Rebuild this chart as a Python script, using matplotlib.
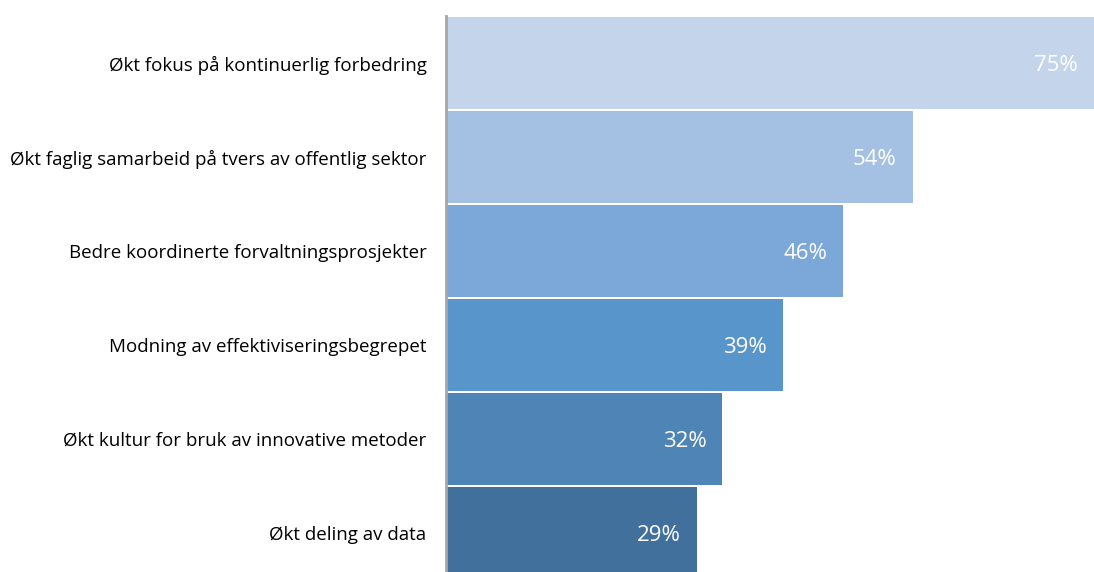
import matplotlib.pyplot as plt

# survey results, shares of respondents
categories = [
    'Økt fokus på kontinuerlig forbedring',
    'Økt faglig samarbeid på tvers av offentlig sektor',
    'Bedre koordinerte forvaltningsprosjekter',
    'Modning av effektiviseringsbegrepet',
    'Økt kultur for bruk av innovative metoder',
    'Økt deling av data',
]
values = [75, 54, 46, 39, 32, 29]
colors = ['#C4D4EA', '#A4C0E3', '#7BA8D8', '#5895CB', '#4E84B6', '#41709C']

plt.rcParams['font.family'] = ['Open Sans', 'DejaVu Sans']

fig = plt.figure(figsize=(10.94, 5.72), dpi=100)
# the last bar runs off the bottom edge
ax = fig.add_axes([446 / 1094, -8 / 572, 1 - 446 / 1094, (572 - 16 + 8) / 572])

pos = list(range(len(values)))
bars = ax.barh(pos, values, height=0.97, color=colors)
ax.set_ylim(len(values) - 0.5, -0.5)
ax.set_xlim(0, 75)

# value labels inside the bar ends
for bar, v in zip(bars, values):
    ax.annotate(f'{v}%', xy=(bar.get_width(), bar.get_y() + bar.get_height() / 2),
                xytext=(-38, 0), textcoords='offset pixels',
                ha='center', va='center_baseline', color='white', fontsize=16)

ax.set_yticks(pos)
ax.set_yticklabels(categories, fontsize=13.5)
ax.tick_params(axis='y', length=0, pad=14)
ax.set_xticks([])
for side in ['top', 'right', 'bottom']:
    ax.spines[side].set_visible(False)
ax.spines['left'].set_color('#A6A6A6')
ax.spines['left'].set_linewidth(2)

fig.savefig('out.png', dpi=100)
